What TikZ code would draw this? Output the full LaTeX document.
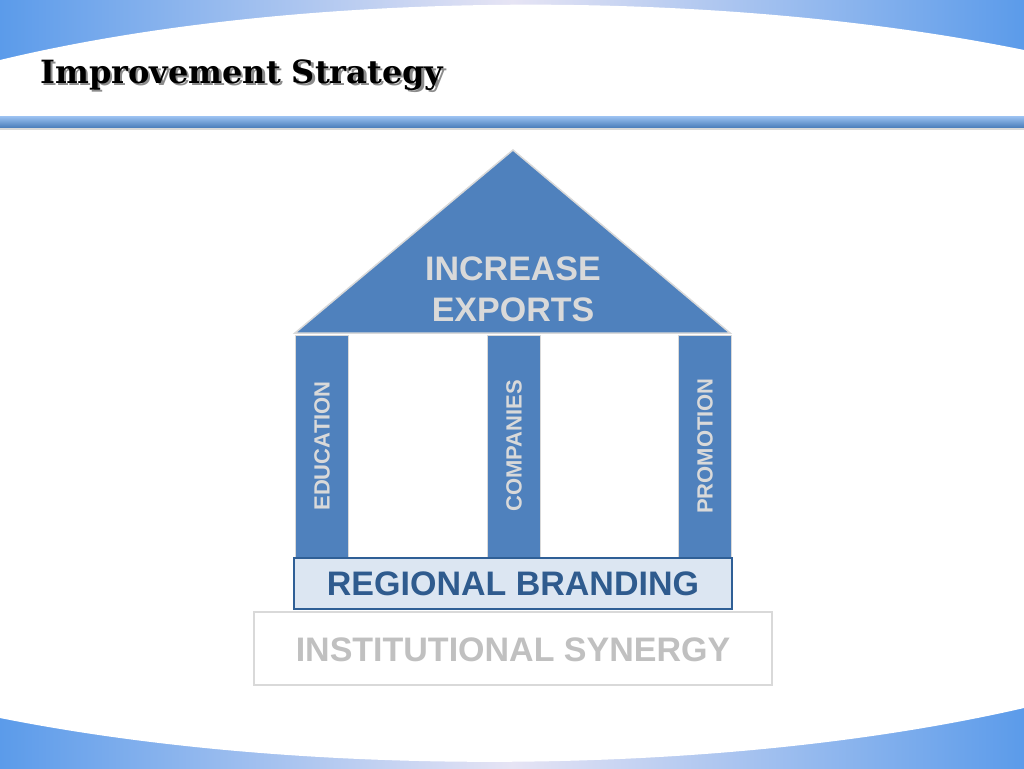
\documentclass[tikz,border=0pt]{standalone}
\usepackage{fontspec}
\setmainfont{Liberation Sans}
\newfontfamily\titlefont{DejaVu Serif}
\usetikzlibrary{shadows}
\definecolor{pblue}{HTML}{4F81BD}
\definecolor{bandblue}{HTML}{5B9BEA}
\definecolor{bandlight}{HTML}{E6E4F4}
\definecolor{rbfill}{HTML}{DCE6F2}
\definecolor{rbline}{HTML}{2F5F96}
\definecolor{rbtext}{HTML}{2F5B8E}
\definecolor{lgray}{HTML}{D9D9D9}
\definecolor{tgray}{HTML}{C0C0C0}
\tikzset{
 pillar/.style={fill=pblue, draw=lgray, line width=0.8pt},
 ptext/.style={text=lgray, font=\bfseries\fontsize{22}{24}\selectfont, rotate=90},
}
\newcommand\shadowtext[1]{\rlap{\hspace{2.5pt}\raisebox{-2.5pt}{\color{black!45}#1}}#1}
\begin{document}
\begin{tikzpicture}[x=1pt,y=-1pt]
\useasboundingbox (0,0) rectangle (1024,768);
% top band
\shade[left color=bandblue, right color=bandblue, middle color=bandlight] (0,0) rectangle (1024,80);
\fill[white] (0,60) .. controls (300,-12) and (720,-12) .. (1024,50) -- (1024,82) -- (0,82) -- cycle;
% bottom band
\shade[left color=bandblue, right color=bandblue, middle color=bandlight] (0,700) rectangle (1024,768);
\fill[white] (0,718) .. controls (300,778) and (720,778) .. (1024,708) -- (1024,698) -- (0,698) -- cycle;
% title
\node[anchor=west, inner sep=0pt] (title) at (40,76) {\titlefont\bfseries\fontsize{32}{36}\selectfont\shadowtext{Improvement Strategy}};
% rule
\fill[black!15] (0,121) rectangle (1024,130);
\shade[top color=bandblue!60!white, bottom color=pblue] (0,116) rectangle (1024,127);
% roof
\draw[pillar, line width=1.5pt] (513,150) coordinate (apex) -- (730,333) -- (295,333) -- cycle;
\node[text=lgray, font=\bfseries\fontsize{34}{41}\selectfont, align=center] (roof) at (513,289) {INCREASE\\EXPORTS};
% pillars
\draw[pillar] (295,335) rectangle (348,557);
\draw[pillar] (487,335) rectangle (540,557);
\draw[pillar] (678,335) rectangle (731,557);
\node[ptext] (edu) at (322,446) {EDUCATION};
\node[ptext] (comp) at (514,446) {COMPANIES};
\node[ptext] (prom) at (705,446) {PROMOTION};
% regional branding
\draw[fill=rbfill, draw=rbline, line width=1.5pt] (294,558) rectangle (732,609);
\node[text=rbtext, font=\bfseries\fontsize{34}{36}\selectfont] (rb) at (513,584) {REGIONAL BRANDING};
% institutional synergy
\draw[fill=white, draw=lgray, line width=1.5pt] (254,612) rectangle (772,685);
\node[text=tgray, font=\bfseries\fontsize{34}{36}\selectfont] (is) at (513,650) {INSTITUTIONAL SYNERGY};
\end{tikzpicture}
\end{document}
